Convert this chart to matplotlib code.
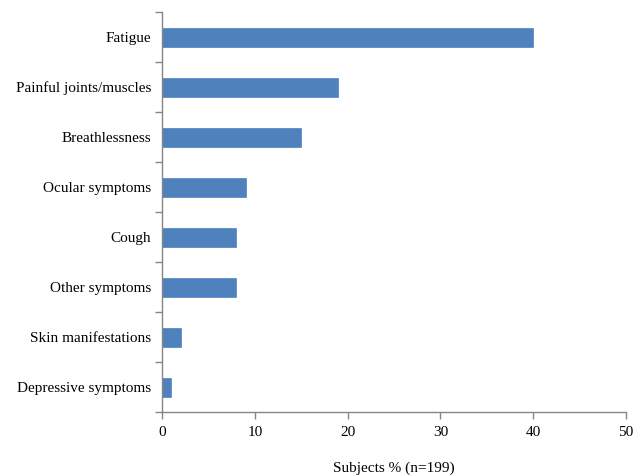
import matplotlib
matplotlib.use('Agg')
import matplotlib.pyplot as plt
import numpy as np

plt.rcParams['font.family'] = ['Liberation Serif', 'DejaVu Serif']

categories = ['Fatigue', 'Painful joints/muscles', 'Breathlessness', 'Ocular symptoms',
              'Cough', 'Other symptoms', 'Skin manifestations', 'Depressive symptoms']
values = [40, 19, 15, 9, 8, 8, 2, 1]
xticks = [0, 10, 20, 30, 40, 50]

fig = plt.figure(figsize=(6.44, 4.76), dpi=100)
ax = fig.add_axes([162 / 644, 64 / 476, 464 / 644, 400 / 476])

y = np.arange(len(categories))[::-1]
ax.barh(y, values, height=0.38, color='#4F81BD', edgecolor='#4F81BD', linewidth=0.5)

ax.set_xlim(0, 50)
ax.set_ylim(-0.5, len(categories) - 0.5)
ax.set_xticks(xticks)
ax.set_xticklabels([str(t) for t in xticks], fontsize=11)

# category labels centred, tick marks on category boundaries
ax.set_yticks(y)
ax.set_yticklabels(categories, fontsize=11)
ax.tick_params(axis='y', length=0, pad=8)
ax.set_yticks(np.arange(len(categories) + 1) - 0.5, minor=True)
ax.tick_params(axis='y', which='minor', length=5, color='#868686', width=1)
ax.tick_params(axis='x', length=5, color='#868686', width=1, pad=5)

for s in ['top', 'right']:
    ax.spines[s].set_visible(False)
for s in ['left', 'bottom']:
    ax.spines[s].set_color('#868686')
    ax.spines[s].set_linewidth(1)

ax.set_xlabel('Subjects % (n=199)', fontsize=11, labelpad=16)

plt.savefig('out.png', dpi=100)
